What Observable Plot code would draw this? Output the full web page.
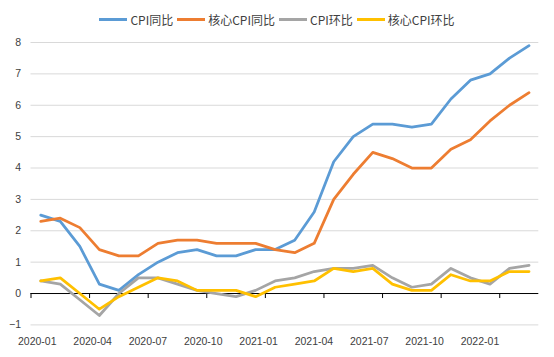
<!DOCTYPE html>
<html>
<head>
<meta charset="utf-8">
<script src="https://cdn.jsdelivr.net/npm/d3@7"></script>
<script src="https://cdn.jsdelivr.net/npm/@observablehq/plot@0.6"></script>
<style>
  body { margin: 0; background: #fff; }
  #wrap { position: relative; width: 554px; height: 357px; }
  #legend { position: absolute; left: 0; top: 0; width: 554px; height: 38px; display: flex; justify-content: center; align-items: center;
            font-family: "Noto Sans CJK SC", sans-serif; font-size: 12px; color: #404040; }
  .item { display: flex; align-items: center; margin: 0 2px; }
  .sw { width: 28px; height: 3px; margin-right: 3px; }
</style>
</head>
<body>
<div id="wrap"><div id="chart"></div><div id="legend"></div></div>
<script>
const months = ["2020-01","2020-02","2020-03","2020-04","2020-05","2020-06","2020-07","2020-08","2020-09","2020-10","2020-11","2020-12",
                "2021-01","2021-02","2021-03","2021-04","2021-05","2021-06","2021-07","2021-08","2021-09","2021-10","2021-11","2021-12",
                "2022-01","2022-02"];
const seriesNames = ["CPI同比", "核心CPI同比", "CPI环比", "核心CPI环比"];
const cpiYoY  = [2.5,2.3,1.5,0.3,0.1,0.6,1.0,1.3,1.4,1.2,1.2,1.4,1.4,1.7,2.6,4.2,5.0,5.4,5.4,5.3,5.4,6.2,6.8,7.0,7.5,7.9];
const coreYoY = [2.3,2.4,2.1,1.4,1.2,1.2,1.6,1.7,1.7,1.6,1.6,1.6,1.4,1.3,1.6,3.0,3.8,4.5,4.3,4.0,4.0,4.6,4.9,5.5,6.0,6.4];
const cpiMoM  = [0.4,0.3,-0.2,-0.7,0.0,0.5,0.5,0.3,0.1,0.0,-0.1,0.1,0.4,0.5,0.7,0.8,0.8,0.9,0.5,0.2,0.3,0.8,0.5,0.3,0.8,0.9];
const coreMoM = [0.4,0.5,0.0,-0.5,-0.1,0.2,0.5,0.4,0.1,0.1,0.1,-0.1,0.2,0.3,0.4,0.8,0.7,0.8,0.3,0.1,0.1,0.6,0.4,0.4,0.7,0.7];
const yTicks = [-1,0,1,2,3,4,5,6,7,8];
const xLabels = ["2020-01","2020-04","2020-07","2020-10","2021-01","2021-04","2021-07","2021-10","2022-01"];
const colors = ["#5B9BD5", "#ED7D31", "#A5A5A5", "#FFC000"];

const seriesValues = [cpiYoY, coreYoY, cpiMoM, coreMoM];
const rows = seriesNames.flatMap((name, s) => months.map((m, i) => ({i, month: m, series: name, value: seriesValues[s][i]})));

// quarter boundaries for tick marks on the zero line
const quarterBounds = d3.range(0, months.length, 3).map(i => i - 0.5);
// labels spread evenly along the category axis (as in the original chart)
const labelStep = (months.length - 0.5) / xLabels.length;
const labelPos = xLabels.map((_, k) => k * labelStep - 0.18);
const labelMap = new Map(labelPos.map((p, k) => [p, xLabels[k]]));

const chart = Plot.plot({
  width: 554,
  height: 357,
  marginLeft: 30.5,
  marginRight: 15.7,
  marginTop: 42,
  marginBottom: 32.6,
  style: { fontFamily: "'Liberation Sans', Arial, sans-serif", fontSize: "10.5px", color: "#404040", background: "white" },
  x: { type: "linear", domain: [-0.5, months.length - 0.5] },
  y: { domain: [-1, 8] },
  color: { domain: seriesNames, range: colors },
  marks: [
    Plot.ruleY(yTicks.filter(v => v !== 0), { stroke: "#d9d9d9", strokeWidth: 1 }),
    Plot.axisY(yTicks, { tickSize: 0, tickPadding: 10, label: null }),
    Plot.axisX(labelPos, { tickSize: 0, tickPadding: 13, tickFormat: d => labelMap.get(d), label: null }),
    Plot.ruleY([0], { stroke: "#000", strokeWidth: 1 }),
    Plot.ruleX(quarterBounds, { y1: 0, y2: -0.16, stroke: "#000", strokeWidth: 1 }),
    Plot.line(rows, { x: "i", y: "value", z: "series", stroke: "series", strokeWidth: 2.75 })
  ]
});
document.getElementById("chart").appendChild(chart);

const legend = document.getElementById("legend");
seriesNames.forEach((name, s) => {
  const item = document.createElement("div");
  item.className = "item";
  const sw = document.createElement("div");
  sw.className = "sw";
  sw.style.background = colors[s];
  const label = document.createElement("span");
  label.textContent = name;
  item.appendChild(sw);
  item.appendChild(label);
  legend.appendChild(item);
});
</script>
</body>
</html>
